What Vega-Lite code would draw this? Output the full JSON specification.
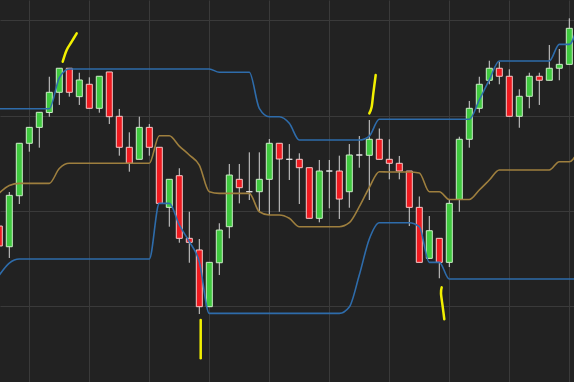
{
  "$schema": "https://vega.github.io/schema/vega-lite/v6.json",
  "width": 574,
  "height": 382,
  "autosize": {"type": "none"},
  "padding": 0,
  "background": "#222222",
  "config": {
    "view": {"stroke": null},
    "axis": {"labels": false, "ticks": false, "domain": false, "grid": true, "gridColor": "#3a3a3a", "gridWidth": 1}
  },
  "datasets": {
    "candles": [
      {"i": 0, "open": 18.42, "high": 18.63, "low": 16.12, "close": 16.33, "dir": "down"},
      {"i": 1, "open": 16.25, "high": 21.99, "low": 15.07, "close": 21.64, "dir": "up"},
      {"i": 2, "open": 21.60, "high": 27.13, "low": 20.73, "close": 27.10, "dir": "up"},
      {"i": 3, "open": 27.10, "high": 28.81, "low": 26.22, "close": 28.77, "dir": "up"},
      {"i": 4, "open": 28.77, "high": 30.38, "low": 26.64, "close": 30.35, "dir": "up"},
      {"i": 5, "open": 30.33, "high": 34.08, "low": 29.89, "close": 32.45, "dir": "up"},
      {"i": 6, "open": 32.45, "high": 35.00, "low": 31.12, "close": 34.97, "dir": "up"},
      {"i": 7, "open": 34.97, "high": 35.00, "low": 31.99, "close": 32.45, "dir": "down"},
      {"i": 8, "open": 31.99, "high": 34.50, "low": 31.12, "close": 33.74, "dir": "up"},
      {"i": 9, "open": 33.29, "high": 34.02, "low": 30.77, "close": 30.77, "dir": "down"},
      {"i": 10, "open": 30.77, "high": 34.13, "low": 30.31, "close": 34.13, "dir": "up"},
      {"i": 11, "open": 34.58, "high": 34.58, "low": 29.12, "close": 29.89, "dir": "down"},
      {"i": 12, "open": 29.93, "high": 30.70, "low": 25.80, "close": 26.68, "dir": "down"},
      {"i": 13, "open": 26.68, "high": 28.25, "low": 24.12, "close": 25.00, "dir": "down"},
      {"i": 14, "open": 25.42, "high": 29.89, "low": 25.42, "close": 28.77, "dir": "up"},
      {"i": 15, "open": 28.77, "high": 29.12, "low": 25.80, "close": 26.68, "dir": "down"},
      {"i": 16, "open": 26.68, "high": 26.68, "low": 20.80, "close": 20.80, "dir": "down"},
      {"i": 17, "open": 20.38, "high": 23.32, "low": 18.35, "close": 23.32, "dir": "up"},
      {"i": 18, "open": 23.70, "high": 24.48, "low": 16.67, "close": 17.13, "dir": "down"},
      {"i": 19, "open": 17.13, "high": 19.92, "low": 14.57, "close": 16.71, "dir": "down"},
      {"i": 20, "open": 15.91, "high": 17.06, "low": 9.19, "close": 9.96, "dir": "down"},
      {"i": 21, "open": 9.96, "high": 14.61, "low": 9.96, "close": 14.61, "dir": "up"},
      {"i": 22, "open": 14.57, "high": 18.71, "low": 13.28, "close": 18.00, "dir": "up"},
      {"i": 23, "open": 18.35, "high": 24.93, "low": 17.13, "close": 23.77, "dir": "up"},
      {"i": 24, "open": 23.32, "high": 24.93, "low": 20.80, "close": 22.44, "dir": "down"},
      {"i": 25, "open": 22.02, "high": 26.15, "low": 21.15, "close": 22.02, "dir": "doji"},
      {"i": 26, "open": 22.02, "high": 26.15, "low": 19.92, "close": 23.32, "dir": "up"},
      {"i": 27, "open": 23.32, "high": 27.55, "low": 19.58, "close": 27.10, "dir": "up"},
      {"i": 28, "open": 27.10, "high": 27.10, "low": 19.92, "close": 25.45, "dir": "down"},
      {"i": 29, "open": 25.42, "high": 27.02, "low": 23.25, "close": 25.42, "dir": "doji"},
      {"i": 30, "open": 25.42, "high": 26.05, "low": 20.73, "close": 24.54, "dir": "down"},
      {"i": 31, "open": 24.54, "high": 24.54, "low": 19.23, "close": 19.23, "dir": "down"},
      {"i": 32, "open": 19.23, "high": 25.35, "low": 18.81, "close": 24.19, "dir": "up"},
      {"i": 33, "open": 24.19, "high": 25.35, "low": 20.28, "close": 24.19, "dir": "doji"},
      {"i": 34, "open": 24.19, "high": 25.80, "low": 19.16, "close": 21.25, "dir": "down"},
      {"i": 35, "open": 22.02, "high": 27.02, "low": 20.34, "close": 25.87, "dir": "up"},
      {"i": 36, "open": 25.87, "high": 27.86, "low": 24.54, "close": 25.87, "dir": "doji"},
      {"i": 37, "open": 25.84, "high": 29.54, "low": 21.15, "close": 27.52, "dir": "up"},
      {"i": 38, "open": 27.52, "high": 28.65, "low": 25.42, "close": 25.42, "dir": "down"},
      {"i": 39, "open": 25.42, "high": 27.52, "low": 23.32, "close": 25.00, "dir": "down"},
      {"i": 40, "open": 25.00, "high": 25.77, "low": 23.32, "close": 24.19, "dir": "down"},
      {"i": 41, "open": 24.19, "high": 24.19, "low": 18.42, "close": 20.38, "dir": "down"},
      {"i": 42, "open": 20.38, "high": 21.52, "low": 14.61, "close": 14.61, "dir": "down"},
      {"i": 43, "open": 15.03, "high": 19.47, "low": 15.03, "close": 17.93, "dir": "up"},
      {"i": 44, "open": 17.13, "high": 17.13, "low": 12.94, "close": 14.61, "dir": "down"},
      {"i": 45, "open": 14.61, "high": 21.15, "low": 14.12, "close": 20.80, "dir": "up"},
      {"i": 46, "open": 21.22, "high": 27.79, "low": 19.92, "close": 27.52, "dir": "up"},
      {"i": 47, "open": 27.52, "high": 31.54, "low": 26.64, "close": 30.77, "dir": "up"},
      {"i": 48, "open": 30.77, "high": 34.08, "low": 30.31, "close": 33.29, "dir": "up"},
      {"i": 49, "open": 33.71, "high": 35.76, "low": 33.29, "close": 34.97, "dir": "up"},
      {"i": 50, "open": 34.97, "high": 35.66, "low": 33.29, "close": 34.13, "dir": "down"},
      {"i": 51, "open": 34.13, "high": 34.86, "low": 29.93, "close": 29.93, "dir": "down"},
      {"i": 52, "open": 29.93, "high": 32.76, "low": 28.73, "close": 32.03, "dir": "up"},
      {"i": 53, "open": 32.03, "high": 34.50, "low": 30.77, "close": 34.13, "dir": "up"},
      {"i": 54, "open": 34.13, "high": 34.50, "low": 31.12, "close": 33.71, "dir": "down"},
      {"i": 55, "open": 33.71, "high": 37.41, "low": 33.71, "close": 34.97, "dir": "up"},
      {"i": 56, "open": 34.97, "high": 36.99, "low": 33.71, "close": 35.38, "dir": "up"},
      {"i": 57, "open": 35.38, "high": 40.21, "low": 35.38, "close": 39.16, "dir": "up"}
    ],
    "channel": [
      {"i": 0, "upper": 30.73, "middle": 21.89, "lower": 13.28},
      {"i": 1, "upper": 30.73, "middle": 22.67, "lower": 14.54},
      {"i": 2, "upper": 30.73, "middle": 22.90, "lower": 14.96},
      {"i": 3, "upper": 30.73, "middle": 22.90, "lower": 14.96},
      {"i": 4, "upper": 30.73, "middle": 22.90, "lower": 14.96},
      {"i": 5, "upper": 30.73, "middle": 22.90, "lower": 14.96},
      {"i": 6, "upper": 33.95, "middle": 24.45, "lower": 14.96},
      {"i": 7, "upper": 34.89, "middle": 25.00, "lower": 14.96},
      {"i": 8, "upper": 34.89, "middle": 25.00, "lower": 14.96},
      {"i": 9, "upper": 34.89, "middle": 25.00, "lower": 14.96},
      {"i": 10, "upper": 34.89, "middle": 25.00, "lower": 14.96},
      {"i": 11, "upper": 34.89, "middle": 25.00, "lower": 14.96},
      {"i": 12, "upper": 34.89, "middle": 25.00, "lower": 14.96},
      {"i": 13, "upper": 34.89, "middle": 25.00, "lower": 14.96},
      {"i": 14, "upper": 34.89, "middle": 25.00, "lower": 14.96},
      {"i": 15, "upper": 34.89, "middle": 25.00, "lower": 14.96},
      {"i": 16, "upper": 34.89, "middle": 27.89, "lower": 20.80},
      {"i": 17, "upper": 34.89, "middle": 27.89, "lower": 20.80},
      {"i": 18, "upper": 34.89, "middle": 26.81, "lower": 18.53},
      {"i": 19, "upper": 34.89, "middle": 25.87, "lower": 16.79},
      {"i": 20, "upper": 34.89, "middle": 24.82, "lower": 14.68},
      {"i": 21, "upper": 34.89, "middle": 22.02, "lower": 9.26},
      {"i": 22, "upper": 34.55, "middle": 21.85, "lower": 9.26},
      {"i": 23, "upper": 34.55, "middle": 21.85, "lower": 9.26},
      {"i": 24, "upper": 34.55, "middle": 21.85, "lower": 9.26},
      {"i": 25, "upper": 34.55, "middle": 21.85, "lower": 9.26},
      {"i": 26, "upper": 30.77, "middle": 19.92, "lower": 9.26},
      {"i": 27, "upper": 29.89, "middle": 19.58, "lower": 9.26},
      {"i": 28, "upper": 29.89, "middle": 19.58, "lower": 9.26},
      {"i": 29, "upper": 29.20, "middle": 19.23, "lower": 9.26},
      {"i": 30, "upper": 27.44, "middle": 18.35, "lower": 9.26},
      {"i": 31, "upper": 27.44, "middle": 18.35, "lower": 9.26},
      {"i": 32, "upper": 27.44, "middle": 18.35, "lower": 9.26},
      {"i": 33, "upper": 27.44, "middle": 18.35, "lower": 9.26},
      {"i": 34, "upper": 27.44, "middle": 18.35, "lower": 9.26},
      {"i": 35, "upper": 27.44, "middle": 18.77, "lower": 9.93},
      {"i": 36, "upper": 27.44, "middle": 20.45, "lower": 13.28},
      {"i": 37, "upper": 27.86, "middle": 22.46, "lower": 17.06},
      {"i": 38, "upper": 29.62, "middle": 24.12, "lower": 18.77},
      {"i": 39, "upper": 29.62, "middle": 24.09, "lower": 18.77},
      {"i": 40, "upper": 29.62, "middle": 24.09, "lower": 18.77},
      {"i": 41, "upper": 29.62, "middle": 24.09, "lower": 18.77},
      {"i": 42, "upper": 29.62, "middle": 23.99, "lower": 18.35},
      {"i": 43, "upper": 29.62, "middle": 22.02, "lower": 14.61},
      {"i": 44, "upper": 29.62, "middle": 22.02, "lower": 14.61},
      {"i": 45, "upper": 29.62, "middle": 21.20, "lower": 12.86},
      {"i": 46, "upper": 29.62, "middle": 21.20, "lower": 12.86},
      {"i": 47, "upper": 29.62, "middle": 21.20, "lower": 12.86},
      {"i": 48, "upper": 31.64, "middle": 22.20, "lower": 12.86},
      {"i": 49, "upper": 33.74, "middle": 23.25, "lower": 12.86},
      {"i": 50, "upper": 35.73, "middle": 24.30, "lower": 12.86},
      {"i": 51, "upper": 35.73, "middle": 24.30, "lower": 12.86},
      {"i": 52, "upper": 35.73, "middle": 24.30, "lower": 12.86},
      {"i": 53, "upper": 35.73, "middle": 24.30, "lower": 12.86},
      {"i": 54, "upper": 35.73, "middle": 24.30, "lower": 12.86},
      {"i": 55, "upper": 35.73, "middle": 24.30, "lower": 12.86},
      {"i": 56, "upper": 37.48, "middle": 25.17, "lower": 12.86},
      {"i": 57, "upper": 37.48, "middle": 25.17, "lower": 12.86},
      {"i": 58, "upper": 40.21, "middle": 26.53, "lower": 12.86}
    ],
    "marks": [
      {"s": 1, "o": 0, "i": 6.34, "p": 35.66},
      {"s": 1, "o": 1, "i": 6.74, "p": 36.89},
      {"s": 1, "o": 2, "i": 7.24, "p": 37.76},
      {"s": 1, "o": 3, "i": 7.74, "p": 38.64},
      {"s": 2, "o": 0, "i": 37.00, "p": 30.24},
      {"s": 2, "o": 1, "i": 37.24, "p": 30.94},
      {"s": 2, "o": 2, "i": 37.40, "p": 32.34},
      {"s": 2, "o": 3, "i": 37.64, "p": 34.26},
      {"s": 3, "o": 0, "i": 20.14, "p": 8.56},
      {"s": 3, "o": 1, "i": 20.14, "p": 4.55},
      {"s": 4, "o": 0, "i": 44.24, "p": 11.99},
      {"s": 4, "o": 1, "i": 44.17, "p": 11.36},
      {"s": 4, "o": 2, "i": 44.34, "p": 9.96},
      {"s": 4, "o": 3, "i": 44.50, "p": 8.64}
    ]
  },
  "encoding": {
    "x": {
      "field": "i",
      "type": "quantitative",
      "title": null,
      "scale": {"domain": [0.07, 57.47], "nice": false, "zero": false, "padding": 0},
      "axis": {"values": [3, 9, 15, 21, 27, 33, 39, 45, 51, 57], "title": null}
    }
  },
  "layer": [
    {
      "data": {"name": "candles"},
      "mark": {"type": "rule", "color": "#d4d4d4", "strokeWidth": 1, "clip": true},
      "encoding": {
        "y": {"field": "low", "type": "quantitative", "title": null, "scale": {"domain": [2.06, 42.13], "nice": false, "zero": false, "padding": 0}, "axis": {"values": [10, 20, 30, 40], "title": null}},
        "y2": {"field": "high"}
      }
    },
    {
      "data": {"name": "candles"},
      "mark": {"type": "bar", "width": 6, "strokeWidth": 1, "clip": true},
      "encoding": {
        "y": {"field": "open", "type": "quantitative", "title": null, "scale": {"domain": [2.06, 42.13], "nice": false, "zero": false, "padding": 0}, "axis": {"values": [10, 20, 30, 40], "title": null}},
        "y2": {"field": "close"},
        "fill": {"field": "dir", "type": "nominal", "scale": {"domain": ["up", "down", "doji"], "range": ["#3ec83e", "#ee1a1f", "#e0e0e0"]}, "legend": null},
        "stroke": {"field": "dir", "type": "nominal", "scale": {"domain": ["up", "down", "doji"], "range": ["#cdeec8", "#f6c8c8", "#e4e4e4"]}, "legend": null}
      }
    },
    {
      "data": {"name": "channel"},
      "mark": {"type": "line", "color": "#2e6cab", "strokeWidth": 1.6, "interpolate": "monotone", "clip": true},
      "encoding": {
        "y": {"field": "upper", "type": "quantitative", "title": null, "scale": {"domain": [2.06, 42.13], "nice": false, "zero": false, "padding": 0}, "axis": {"values": [10, 20, 30, 40], "title": null}}
      }
    },
    {
      "data": {"name": "channel"},
      "mark": {"type": "line", "color": "#2e6cab", "strokeWidth": 1.6, "interpolate": "monotone", "clip": true},
      "encoding": {
        "y": {"field": "lower", "type": "quantitative", "title": null, "scale": {"domain": [2.06, 42.13], "nice": false, "zero": false, "padding": 0}, "axis": {"values": [10, 20, 30, 40], "title": null}}
      }
    },
    {
      "data": {"name": "channel"},
      "mark": {"type": "line", "color": "#9e7f3e", "strokeWidth": 1.6, "interpolate": "monotone", "clip": true},
      "encoding": {
        "y": {"field": "middle", "type": "quantitative", "title": null, "scale": {"domain": [2.06, 42.13], "nice": false, "zero": false, "padding": 0}, "axis": {"values": [10, 20, 30, 40], "title": null}}
      }
    },
    {
      "data": {"name": "marks"},
      "mark": {"type": "line", "color": "#f2f000", "strokeWidth": 2.5, "strokeCap": "round", "interpolate": "cardinal", "clip": true},
      "encoding": {
        "y": {"field": "p", "type": "quantitative", "title": null, "scale": {"domain": [2.06, 42.13], "nice": false, "zero": false, "padding": 0}, "axis": {"values": [10, 20, 30, 40], "title": null}},
        "detail": {"field": "s", "type": "nominal"},
        "order": {"field": "o", "type": "quantitative"}
      }
    }
  ]
}
